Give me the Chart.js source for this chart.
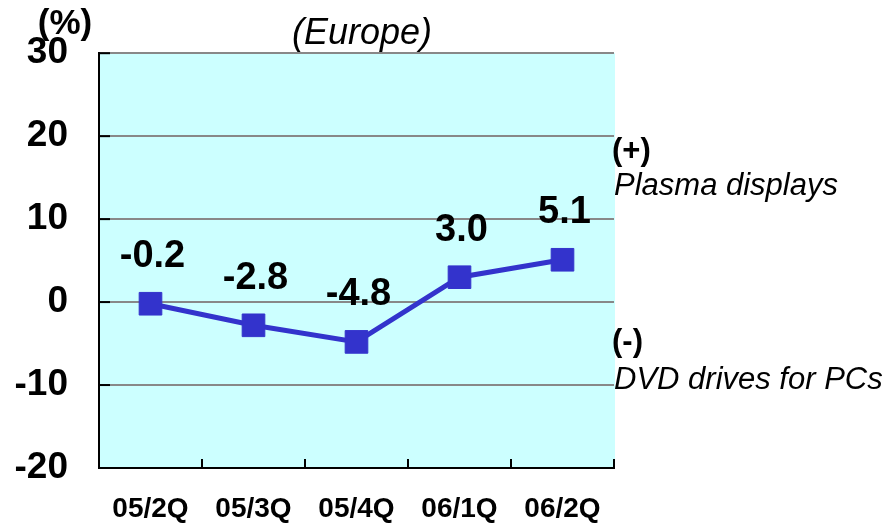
<!DOCTYPE html>
<html>
<head>
<meta charset="utf-8">
<script src="https://cdn.jsdelivr.net/npm/chart.js@4/dist/chart.umd.min.js"></script>
<style>
  html, body { margin: 0; padding: 0; background: #ffffff; }
  #wrap { width: 894px; height: 523px; position: relative; }
</style>
</head>
<body>
<div id="wrap"><canvas id="c" width="894" height="523"></canvas></div>
<script>
const categories = ['05/2Q', '05/3Q', '05/4Q', '06/1Q', '06/2Q'];
const values = [-0.2, -2.8, -4.8, 3.0, 5.1];
const valueLabels = ['-0.2', '-2.8', '-4.8', '3.0', '5.1'];
const yTicks = [-20, -10, 0, 10, 20, 30];
const titleText = '(Europe)';
const unitText = '(%)';
const plusText = ['(+)', 'Plasma displays'];
const minusText = ['(-)', 'DVD drives for PCs'];

const FONT = "'Liberation Sans', Arial, sans-serif";
const LINE = '#3333CC';

const decor = {
  id: 'decor',
  beforeDraw(chart) {
    const { ctx, chartArea: a } = chart;
    ctx.save();
    ctx.fillStyle = '#CCFFFF';
    ctx.fillRect(a.left, a.top, a.right - a.left + 1, a.bottom - a.top);
    ctx.restore();
  },
  afterDatasetsDraw(chart) {
    const { ctx, chartArea: a } = chart;
    const xs = chart.scales.x, ys = chart.scales.y;
    ctx.save();
    ctx.strokeStyle = '#000';
    ctx.lineWidth = 2;
    yTicks.forEach(v => {
      const y = ys.getPixelForValue(v);
      ctx.beginPath(); ctx.moveTo(a.left, y); ctx.lineTo(a.left + 11, y); ctx.stroke();
    });
    const step = xs.getPixelForValue(1) - xs.getPixelForValue(0);
    for (let i = 0; i < categories.length; i++) {
      const x = xs.getPixelForValue(i) + step / 2;
      ctx.beginPath(); ctx.moveTo(x, a.bottom); ctx.lineTo(x, a.bottom - 9); ctx.stroke();
    }
    ctx.fillStyle = '#000';
    ctx.font = 'bold 38px ' + FONT;
    ctx.textAlign = 'center';
    ctx.textBaseline = 'middle';
    const meta = chart.getDatasetMeta(0);
    meta.data.forEach((pt, i) => {
      ctx.fillText(valueLabels[i], pt.x + 2, pt.y - 47);
    });
    ctx.font = 'italic 36px ' + FONT;
    ctx.fillText(titleText, 362, 34);
    ctx.font = 'bold 35px ' + FONT;
    ctx.fillText(unitText, 65, 24);
    ctx.textAlign = 'left';
    ctx.font = 'bold 31px ' + FONT;
    ctx.fillText(plusText[0], 612, 151);
    ctx.fillText(minusText[0], 612, 342);
    ctx.font = 'italic 31px ' + FONT;
    ctx.textBaseline = 'alphabetic';
    ctx.fillText(plusText[1], 614, 195);
    ctx.fillText(minusText[1], 614, 389);
    ctx.restore();
  }
};

new Chart(document.getElementById('c'), {
  type: 'line',
  data: {
    labels: categories,
    datasets: [{
      data: values,
      borderColor: LINE,
      backgroundColor: LINE,
      borderWidth: 5,
      pointStyle: 'rect',
      pointRadius: 16,
      pointHoverRadius: 16,
      pointBorderWidth: 1,
      pointBorderColor: LINE,
      pointBackgroundColor: LINE,
      tension: 0,
      fill: false
    }]
  },
  options: {
    responsive: false,
    animation: false,
    events: [],
    layout: { padding: { top: 53, right: 280, left: 0, bottom: 0 } },
    plugins: { legend: { display: false }, tooltip: { enabled: false }, title: { display: false } },
    scales: {
      x: {
        type: 'category',
        offset: true,
        grid: { display: false, drawTicks: false },
        border: { display: true, color: '#000', width: 2 },
        ticks: { color: '#000', font: { family: FONT, size: 28, weight: 'bold' }, padding: 24, maxRotation: 0, autoSkip: false },
        afterFit(s) { s.height = 55; }
      },
      y: {
        min: -20, max: 30,
        grid: { color: '#888888', lineWidth: 2, drawTicks: false },
        border: { display: true, color: '#000', width: 2 },
        ticks: { stepSize: 10, color: '#000', font: { family: FONT, size: 37, weight: 'bold' }, padding: 31,
          callback: v => yTicks.includes(v) ? String(v) : '' },
        afterFit(s) { s.width = 99; }
      }
    }
  },
  plugins: [decor]
});
</script>
</body>
</html>
